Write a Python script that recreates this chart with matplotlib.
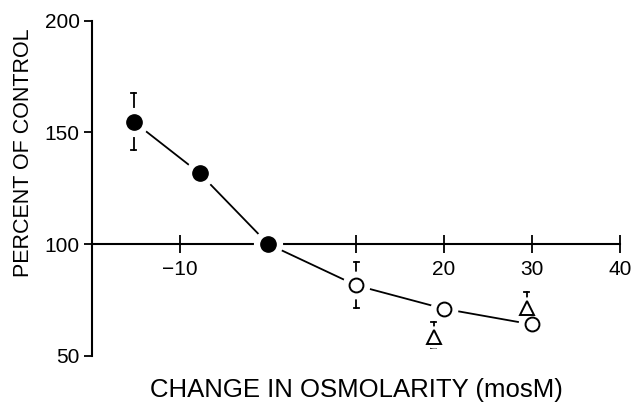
import matplotlib
matplotlib.use("Agg")
import matplotlib.pyplot as plt

plt.rcParams['font.family'] = ['Liberation Sans', 'DejaVu Sans']

# Hypo-osmotic side (filled circles)
filled_x = [-15.3, -7.8, 0]
filled_y = [154.8, 131.7, 100]
filled_err_lo = [12.7, 0, 0]
filled_err_hi = [12.7, 0, 0]

# Hyper-osmotic side (open circles)
open_x = [10, 20, 30]
open_y = [81.5, 71, 64]
open_err_lo = [10, 0, 5]
open_err_hi = [10.5, 0, 0]

# Second series (open triangles)
tri_x = [18.8, 29.4]
tri_y = [58.5, 71.5]
tri_err_lo = [5, 0]
tri_err_hi = [6.5, 7]

xticks = [-10, 0, 10, 20, 30, 40]
xtick_labels = ['\u221210', '', '', '20', '30', '40']
yticks = [50, 100, 150, 200]

W, H = 633, 404
fig = plt.figure(figsize=(W / 100, H / 100), dpi=100)
ax = fig.add_axes([92.3 / W, 1 - 355.7 / H, (620 - 92.3) / W, (355.7 - 20.7) / H])
ax.set_xlim(-20, 40)
ax.set_ylim(50, 200)

ax.spines['top'].set_visible(False)
ax.spines['right'].set_visible(False)
ax.spines['bottom'].set_position(('data', 100))
ax.spines['left'].set_linewidth(1.5)
ax.spines['bottom'].set_linewidth(1.5)

ax.set_xticks(xticks)
ax.set_xticklabels(xtick_labels)
ax.set_yticks(yticks)
ax.tick_params(axis='x', direction='inout', length=13, width=1.3, labelsize=15, pad=5)
ax.tick_params(axis='y', direction='out', length=6, width=1.3, labelsize=15, pad=3)

# connecting curve through both circle series
curve_x = filled_x + open_x
curve_y = filled_y + open_y
ax.plot(curve_x, curve_y, color='black', lw=1.3, zorder=2)


def errbars(xs, ys, lo, hi, size):
    for x, y, l, h in zip(xs, ys, lo, hi):
        if h:
            ax.plot([x, x], [y, y + h], color='black', lw=1.3, zorder=2)
            ax.plot([x - 0.3, x + 0.3], [y + h, y + h], color='black', lw=1.3, zorder=2)
        if l:
            ax.plot([x, x], [y, y - l], color='black', lw=1.3, zorder=2)
            ax.plot([x - 0.3, x + 0.3], [y - l, y - l], color='black', lw=1.3, zorder=2)
        # white halo leaves a gap between marker and lines
        ax.plot(x, y, marker='o', ms=size, color='white', mec='white', zorder=3)


errbars(filled_x, filled_y, filled_err_lo, filled_err_hi, 20)
errbars(open_x, open_y, open_err_lo, open_err_hi, 19)
errbars(tri_x, tri_y, tri_err_lo, tri_err_hi, 15)

ax.plot(filled_x, filled_y, 'o', ms=11, color='black', zorder=4)
ax.plot(open_x, open_y, 'o', ms=10, mfc='white', mec='black', mew=1.4, zorder=4)
ax.plot(tri_x, tri_y, '^', ms=10, mfc='white', mec='black', mew=1.4, zorder=4)

fig.text(356 / W, 1 - 390 / H, 'CHANGE IN OSMOLARITY (mosM)', fontsize=18.5,
         ha='center', va='center')
fig.text(24 / W, 1 - 153 / H, 'PERCENT OF CONTROL', fontsize=15.5, rotation=90,
         ha='center', va='center')

fig.savefig('out.png', dpi=100)
